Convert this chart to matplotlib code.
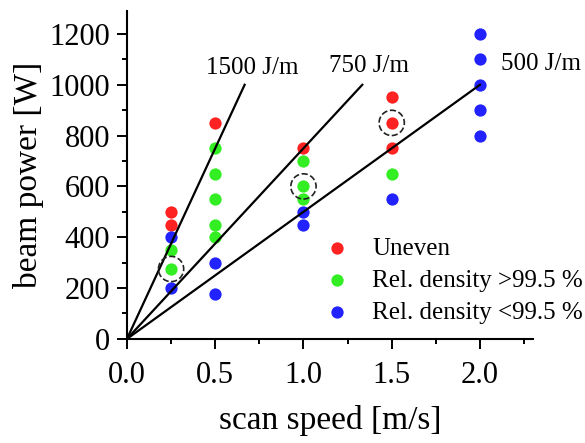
import matplotlib
matplotlib.use("Agg")
import matplotlib.pyplot as plt

plt.rcParams["font.family"] = ["Liberation Serif", "DejaVu Serif"]

# process window: scan speed [m/s] vs beam power [W]
uneven_v = [0.25, 0.25, 0.5, 1.0, 1.5, 1.5, 1.5]
uneven_p = [500, 450, 850, 750, 950, 850, 750]
dense_v = [0.25, 0.25, 0.5, 0.5, 0.5, 0.5, 0.5, 1.0, 1.0, 1.0, 1.5]
dense_p = [350, 275, 750, 650, 550, 450, 400, 700, 600, 550, 650]
porous_v = [0.25, 0.25, 0.5, 0.5, 1.0, 1.0, 1.5, 2.0, 2.0, 2.0, 2.0, 2.0]
porous_p = [400, 200, 300, 175, 500, 450, 550, 1200, 1100, 1000, 900, 800]

# highlighted parameter sets
marked_v = [0.25, 1.0, 1.5]
marked_p = [275, 600, 850]

# constant line energy E = P / v, drawn up to 1000 W
energies = [1500, 750, 500]
energy_labels = ["1500 J/m", "750 J/m", "500 J/m"]
line_pmax = 1000

fig = plt.figure(figsize=(5.85, 4.43), dpi=100)
ax = fig.add_axes([0.217, 0.235, 0.694, 0.740])

s = 78
ax.scatter(uneven_v, uneven_p, s=s, color="#ff2222", lw=0, label="Uneven", zorder=2)
ax.scatter(dense_v, dense_p, s=s, color="#33ee22", lw=0, label="Rel. density >99.5 %", zorder=2)
ax.scatter(porous_v, porous_p, s=s, color="#2222ff", lw=0, label="Rel. density <99.5 %", zorder=2)
ax.scatter(marked_v, marked_p, s=330, facecolors="none", edgecolors="#222222",
           linestyles="--", lw=1.2, zorder=4)

for e in energies:
    ax.plot([0, line_pmax / e], [0, line_pmax], color="black", lw=1.6, zorder=3)

ax.text(0.712, 1065, energy_labels[0], ha="center", va="center", fontsize=18)
ax.text(1.373, 1073, energy_labels[1], ha="center", va="center", fontsize=18)
ax.text(2.12, 1083, energy_labels[2], ha="left", va="center", fontsize=18)

ax.set_xlim(0, 2.3)
ax.set_ylim(0, 1290)
ax.set_xticks([0, 0.5, 1.0, 1.5, 2.0])
ax.set_xticks([0.25, 0.75, 1.25, 1.75, 2.25], minor=True)
ax.set_yticks(range(0, 1201, 200))
ax.set_yticks(range(100, 1201, 200), minor=True)
ax.xaxis.set_major_formatter(matplotlib.ticker.FormatStrFormatter("%.1f"))
ax.tick_params(which="major", length=7, width=1.4, labelsize=22, direction="out", pad=5)
ax.tick_params(axis="x", which="major", pad=9)
ax.tick_params(which="minor", length=3.5, width=1.4, direction="out")
for side in ["top", "right"]:
    ax.spines[side].set_visible(False)
for side in ["left", "bottom"]:
    ax.spines[side].set_linewidth(1.5)

ax.set_xlabel("scan speed [m/s]", fontsize=24, labelpad=11)
ax.set_ylabel("beam power [W]", fontsize=24, labelpad=4)

ax.legend(loc="upper left", bbox_to_anchor=(0.463, 0.34), frameon=False,
          fontsize=18, handletextpad=0.9, labelspacing=0.38,
          borderaxespad=0, handlelength=1.0)

fig.savefig("out.png", dpi=100)
